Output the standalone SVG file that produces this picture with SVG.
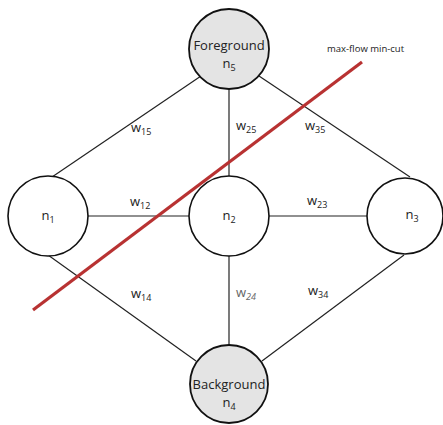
<svg xmlns="http://www.w3.org/2000/svg" width="443" height="425" viewBox="0 0 443 425">
<style>
.edge{stroke:#222;stroke-width:1.2;fill:none}
.node{fill:#fff;stroke:#111;stroke-width:1.6}
.term{fill:#e4e4e4;stroke:#111;stroke-width:1.8}
text{font-family:"Open Sans","Noto Sans",sans-serif;fill:#222}
.lbl{font-size:13px;text-anchor:middle}
.w{font-size:13px}
.sub{font-size:9px}
.cut{stroke:#b83232;stroke-width:3.2;fill:none}
</style>
<rect width="443" height="425" fill="#fff"/>
<g id="connectors">
<line class="edge" x1="201" y1="76" x2="52" y2="177"/>
<line class="edge" x1="259" y1="76" x2="410" y2="177"/>
<line class="edge" x1="229" y1="89" x2="229" y2="176"/>
<line class="edge" x1="88" y1="216" x2="189" y2="216"/>
<line class="edge" x1="269" y1="216" x2="367" y2="216"/>
<line class="edge" x1="229" y1="256" x2="229" y2="345"/>
<line class="edge" x1="48" y1="255" x2="196" y2="361"/>
<line class="edge" x1="404" y1="255" x2="262" y2="361"/>
<text class="w" x="131" y="132">w<tspan class="sub" dy="3">15</tspan></text>
<text class="w" x="236" y="130">w<tspan class="sub" dy="3">25</tspan></text>
<text class="w" x="305" y="130">w<tspan class="sub" dy="3">35</tspan></text>
<text class="w" x="130" y="206">w<tspan class="sub" dy="3">12</tspan></text>
<text class="w" x="307" y="205">w<tspan class="sub" dy="3">23</tspan></text>
<text class="w" x="131" y="298">w<tspan class="sub" dy="3">14</tspan></text>
<text class="w" x="236" y="297" style="fill:#666">w<tspan class="sub" dy="3" font-style="italic">24</tspan></text>
<text class="w" x="308" y="295">w<tspan class="sub" dy="3">34</tspan></text>
</g>
<g id="n5">
<circle class="term" cx="229" cy="49" r="40"/>
<text class="lbl" x="229" y="50">Foreground</text>
<text class="lbl" x="229" y="68">n<tspan class="sub" dy="3">5</tspan></text>
</g>
<g id="n1">
<circle class="node" cx="48" cy="216" r="40"/>
<text class="lbl" x="48" y="220">n<tspan class="sub" dy="3">1</tspan></text>
</g>
<g id="n2">
<circle class="node" cx="229" cy="216" r="40"/>
<text class="lbl" x="229" y="220">n<tspan class="sub" dy="3">2</tspan></text>
</g>
<g id="n3">
<circle class="node" cx="405" cy="216" r="38"/>
<text class="lbl" x="412" y="219">n<tspan class="sub" dy="3">3</tspan></text>
</g>
<g id="n4">
<circle class="term" cx="229" cy="384" r="39"/>
<text class="lbl" x="229" y="389">Background</text>
<text class="lbl" x="229" y="407">n<tspan class="sub" dy="3">4</tspan></text>
</g>
<g id="cut">
<line class="cut" x1="33" y1="310" x2="362" y2="62"/>
<text x="327" y="52" font-size="9.5px">max-flow min-cut</text>
</g>
</svg>
